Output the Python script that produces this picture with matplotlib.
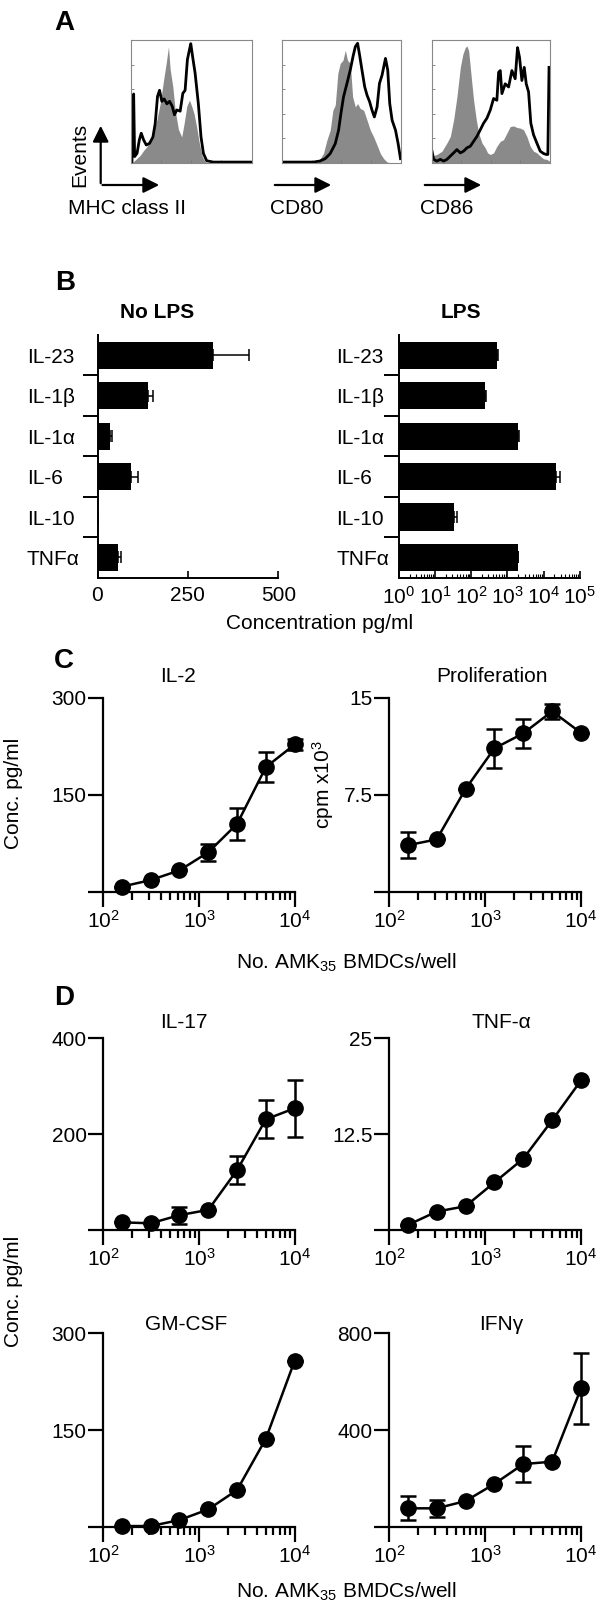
import numpy as np
import matplotlib
matplotlib.use('Agg')
import matplotlib.pyplot as plt
from matplotlib.patches import FancyArrowPatch
from matplotlib.ticker import LogLocator, NullFormatter

plt.rcParams['font.family'] = ['Liberation Sans', 'DejaVu Sans']
plt.rcParams['mathtext.fontset'] = 'custom'
plt.rcParams['mathtext.rm'] = 'Liberation Sans'
plt.rcParams['mathtext.it'] = 'Liberation Sans:italic'
plt.rcParams['mathtext.bf'] = 'Liberation Sans:bold'
plt.rcParams['mathtext.default'] = 'regular'

# ---- panel A: flow histograms (channel on 0-100 scale, events as % of max)
mhc_iso_x = [0, 2.2, 5.0, 7.7, 10.5, 13.2, 16.0, 18.7, 21.5, 24.2, 27.0, 29.2, 31.1, 32.5, 34.7, 36.6,
             39.4, 42.1, 44.1, 46.3, 48.5, 50.4, 52.3, 54.5, 56.7, 59.2, 61.4, 64.2, 100]
mhc_iso_y = [0, 1, 3.5, 6, 10, 13, 17, 25, 35, 48, 67, 81, 94.6, 76, 62, 43,
             27, 21, 32, 46, 51, 46, 40, 29, 16, 5, 1, 0, 0]
mhc_x = [0, 0.8, 2.2, 3.0, 5.0, 6.9, 8.5, 10.5, 12.7, 15.4, 18.2, 20.1, 22.0, 23.7, 25.6, 27.5, 29.8,
         32.0, 34.2, 36.1, 38.0, 40.8, 43.0, 44.9, 46.8, 48.5, 49.6, 51.2, 53.2, 55.9, 58.1, 60.1,
         62.8, 68.3, 100]
mhc_y = [0, 0.5, 56, 5, 7.6, 18.5, 24, 18.5, 14.4, 15.8, 21, 32, 54, 59, 50, 52, 48,
         50, 46, 39, 43, 42, 56.5, 59, 84, 92, 97, 86, 73, 48, 21, 7.6,
         1.6, 0.5, 0.5]

cd80_iso_x = [0, 29.2, 32.0, 34.8, 37.7, 40.5, 42.8, 44.8, 47.0, 49.0, 51.3, 53.3, 55.2, 57.5, 59.5,
              61.8, 63.7, 66.0, 68.8, 71.7, 74.5, 77.3, 80.2, 83.0, 85.8, 88.7, 91.5, 100]
cd80_iso_y = [0, 0, 3.3, 7.4, 18.3, 26.4, 42.8, 46.9, 72.8, 80.9, 83.4, 91.6, 83.4, 80.9, 53.7,
              45.5, 48.2, 44.1, 42.8, 34.6, 26.4, 21.0, 14.2, 7.4, 3.3, 0.5, 0, 0]
cd80_x = [0, 26.3, 32.0, 36.3, 40.5, 44.8, 47.6, 49.6, 51.8, 54.7, 57.5, 59.8, 61.8, 63.7, 65.4, 67.4,
          69.7, 71.7, 73.9, 75.9, 77.9, 80.2, 82.2, 84.4, 87.3, 89.2, 90.9, 92.9, 95.8, 98.0, 100]
cd80_y = [0.5, 0.5, 1.4, 3.3, 7.4, 15.5, 26.4, 40.1, 53.7, 64.6, 75.5, 86.4, 94.6, 97.3, 87.7, 75.5,
          61.9, 55.0, 49.6, 42.8, 37.3, 45.5, 64.6, 71.4, 85.0, 75.5, 48.2, 34.6, 26.4, 15.5, 3.3]

cd86_iso_x = [0, 4.2, 8.5, 12.7, 15.6, 18.4, 21.2, 24.1, 26.3, 28.3, 29.7, 31.2, 33.1, 35.4, 37.7, 39.7,
              42.5, 45.3, 47.3, 49.6, 52.4, 55.2, 58.1, 60.9, 63.7, 66.6, 69.4, 72.2, 75.1, 77.9, 80.7,
              83.6, 86.4, 89.2, 92.1, 94.9, 97.7, 100]
cd86_iso_y = [5.4, 6.7, 9.4, 16.1, 21.4, 34.9, 53.6, 77.7, 88.5, 93.8, 95.2, 91.2, 72.7, 50.9, 34.9, 24.1,
              16.1, 12.1, 8.0, 6.7, 8.0, 13.4, 17.4, 18.8, 24.1, 29.5, 30.0, 28.7, 28.2, 26.8, 21.4,
              13.4, 9.4, 8.0, 5.4, 3.2, 2.7, 1.3]
cd86_x = [0, 1.4, 4.2, 7.1, 9.9, 12.7, 15.6, 18.4, 21.2, 24.1, 26.9, 29.7, 32.6, 35.4, 38.2, 41.1, 43.9,
          46.7, 49.6, 52.4, 55.2, 56.7, 58.1, 59.5, 62.3, 65.2, 68.0, 70.8, 72.8, 74.5, 76.5, 78.5,
          80.2, 82.2, 84.1, 86.4, 89.2, 92.1, 94.9, 97.2, 98.6, 99.6]
cd86_y = [9.4, 2.7, 1.3, 2.7, 1.3, 2.7, 5.4, 8.0, 10.7, 8.0, 9.4, 12.1, 13.4, 17.4, 21.4, 26.8, 32.2,
          36.2, 42.9, 52.3, 50.9, 73.7, 75.1, 56.3, 64.3, 61.7, 75.1, 68.4, 93.8, 85.8, 67.0, 77.7,
          64.3, 57.6, 32.2, 22.8, 16.1, 9.4, 7.5, 6.7, 6.7, 77.7]

markers_a = ['MHC class II', 'CD80', 'CD86']

# ---- panel B: cytokines, pg/ml
cytokines = ['IL-23', 'IL-1β', 'IL-1α', 'IL-6', 'IL-10', 'TNFα']
nolps_mean = [320, 141, 34, 93, 1, 58]
nolps_err = [100, 12, 6, 18, 0, 8]
lps_mean = [510, 245, 2000, 21600, 33, 1990]
lps_err = [25, 13, 160, 6100, 8, 40]

# ---- panels C/D: titration of BMDCs
cells = [156.25, 312.5, 625, 1250, 2500, 5000, 10000]
il2 = [7.8, 18, 33, 61, 105, 193, 228]
il2_err = [0, 0, 0, 13, 25, 23, 9]
prolif = [3.6, 4.05, 7.95, 11.1, 12.26, 13.97, 12.3]
prolif_err = [1.0, 0, 0, 1.5, 1.1, 0.6, 0]
il17 = [16, 14, 31, 42, 125, 231, 254]
il17_err = [0, 0, 18, 0, 29, 40, 59]
tnfa = [0.65, 2.4, 3.1, 6.2, 9.3, 14.3, 19.5]
tnfa_err = [0, 0, 0, 0, 0, 0, 0]
gmcsf = [1, 1, 10.3, 26.9, 56.9, 136.6, 257.6]
gmcsf_err = [0, 0, 0, 0, 0, 0, 0]
ifng = [76, 76, 106, 177, 259, 269, 572]
ifng_err = [50, 35, 0, 0, 74, 0, 148]

W, H = 600, 1605
fig = plt.figure(figsize=(W / 100, H / 100), dpi=100)
FS = 15


def box(x0, y0, x1, y1):
    return fig.add_axes([x0 / W, 1 - y1 / H, (x1 - x0) / W, (y1 - y0) / H])


def ftext(x, y, s, **kw):
    kw.setdefault('fontsize', FS)
    kw.setdefault('ha', 'center')
    kw.setdefault('va', 'center')
    fig.text(x / W, 1 - y / H, s, **kw)


def arrow(x0, y0, x1, y1):
    fig.add_artist(FancyArrowPatch((x0 / W, 1 - y0 / H), (x1 / W, 1 - y1 / H),
                                   transform=fig.transFigure, arrowstyle='-|>',
                                   mutation_scale=24, lw=1.6, color='black'))


# panel letters
for letter, (lx, ly) in zip('ABCD', [(54, 23), (55, 283), (54, 661), (54, 998)]):
    ftext(lx, ly, letter, fontsize=20, fontweight='bold', ha='left')

# ---- A
hists = [(mhc_iso_x, mhc_iso_y, mhc_x, mhc_y),
         (cd80_iso_x, cd80_iso_y, cd80_x, cd80_y),
         (cd86_iso_x, cd86_iso_y, cd86_x, cd86_y)]
a_boxes = [(131, 40, 251.5, 162.7), (282.3, 40, 400.5, 162.7), (432, 40, 549.5, 162.7)]
for bx, (gx, gy, lx, ly) in zip(a_boxes, hists):
    ax = box(*bx)
    ax.fill_between(gx, gy, color='#8a8a8a', lw=0)
    ax.plot(lx, ly, color='black', lw=2.0)
    ax.set_xlim(0, 100)
    ax.set_ylim(0, 100)
    ax.set_xticks([25, 50, 75])
    ax.set_yticks([20, 40, 60, 80])
    ax.tick_params(direction='in', length=2, width=0.6, color='#777777',
                   labelbottom=False, labelleft=False)
    for s in ax.spines.values():
        s.set_color('#888888')
        s.set_linewidth(0.8)

arrow(100.7, 186, 100.7, 123)
arrow(99.7, 185, 162, 185)
ftext(80, 155, 'Events', rotation=90)
arrow(272, 185, 334, 185)
arrow(422, 185, 484, 185)
for (tx, lab) in zip([68, 270, 420], markers_a):
    ftext(tx, 209, lab, ha='left')

# ---- B
ypos = np.arange(len(cytokines))
b_axes = [box(97.5, 335, 278.3, 577.7), box(398.7, 335, 579.8, 577.7)]
for ax, lab_pad in zip(b_axes, [51, 45]):
    ax.set_ylim(len(cytokines) - 0.5, -0.5)
    ax.spines[['top', 'right']].set_visible(False)
    ax.spines[['left', 'bottom']].set_linewidth(1.4)
    ax.set_yticks(ypos[:-1] + 0.5)
    ax.set_yticklabels([])
    ax.set_yticks(ypos, minor=True)
    ax.set_yticklabels(cytokines, minor=True, ha='left')
    ax.tick_params(axis='y', which='major', length=11, width=1.4)
    ax.tick_params(axis='y', which='minor', length=0, pad=lab_pad, labelsize=FS)
    ax.tick_params(axis='x', which='major', direction='in', length=5, width=1.2,
                   labelsize=FS, pad=6)

ax = b_axes[0]
ax.barh(ypos, nolps_mean, height=0.67, color='black',
        xerr=[np.zeros(len(nolps_err)), nolps_err], capsize=4.3,
        error_kw=dict(lw=1.1, capthick=1.1))
ax.set_xlim(0, 500)
ax.set_xticks([0, 250, 500])

ax = b_axes[1]
ax.set_xscale('log')
ax.barh(ypos, np.array(lps_mean) - 1, left=1, height=0.67, color='black',
        xerr=[np.zeros(len(lps_err)), lps_err], capsize=4.3,
        error_kw=dict(lw=1.1, capthick=1.1))
ax.set_xlim(1, 1e5)
ax.set_xticks([10.0 ** k for k in range(6)])
ax.set_xticklabels(['10$^{%d}$' % k for k in range(6)])
ax.xaxis.set_minor_locator(LogLocator(base=10, subs=np.arange(2, 10), numticks=20))
ax.xaxis.set_minor_formatter(NullFormatter())
ax.tick_params(axis='x', which='minor', direction='in', length=3, width=0.8)

ftext(157, 313, 'No LPS', fontweight='bold')
ftext(461, 313, 'LPS', fontweight='bold')
ftext(320, 623, 'Concentration pg/ml')


# ---- C / D
def line_panel(bx, vals, errs, ymax, ylabels, title, tx, ty):
    ax = box(*bx)
    cont = ax.errorbar(cells, vals, yerr=errs, fmt='-o', color='black', ms=11, lw=1.8,
                       elinewidth=1.8, capsize=5.5, capthick=1.8)
    for art in cont.get_children():
        art.set_clip_on(False)
    ax.set_xscale('log')
    ax.set_xlim(100, 1e4)
    ax.set_ylim(0, ymax)
    ax.spines[['top', 'right']].set_visible(False)
    ax.spines[['left', 'bottom']].set_linewidth(1.6)
    ax.set_xticks([1e2, 1e3, 1e4])
    ax.set_xticklabels(['10$^{2}$', '10$^{3}$', '10$^{4}$'])
    ax.xaxis.set_minor_locator(LogLocator(base=10, subs=np.arange(2, 10), numticks=20))
    ax.xaxis.set_minor_formatter(NullFormatter())
    ax.set_yticks([0, ymax / 2, ymax])
    ax.set_yticklabels([''] + ylabels)
    ax.tick_params(axis='x', which='major', length=11, width=1.6, labelsize=FS, pad=2)
    ax.tick_params(axis='x', which='minor', length=6, width=1.6)
    ax.tick_params(axis='y', length=11, width=1.6, labelsize=FS, pad=1)
    ftext(tx, ty, title)
    return ax


line_panel((103.3, 698, 294.7, 891.7), il2, il2_err, 300, ['150', '300'], 'IL-2', 178, 677)
line_panel((389.2, 698, 581, 891.7), prolif, prolif_err, 15, ['7.5', '15'], 'Proliferation', 492, 677)
line_panel((103.3, 1038.3, 294.7, 1230), il17, il17_err, 400, ['200', '400'], 'IL-17', 184, 1023)
line_panel((389.2, 1038.3, 581, 1230), tnfa, tnfa_err, 25, ['12.5', '25'], 'TNF-α', 501, 1023)
line_panel((103.3, 1333.3, 294.7, 1526.7), gmcsf, gmcsf_err, 300, ['150', '300'], 'GM-CSF', 186, 1325)
line_panel((389.2, 1333.3, 581, 1526.7), ifng, ifng_err, 800, ['400', '800'], 'IFNγ', 501, 1325)

ftext(14, 793, 'Conc. pg/ml', rotation=90)
ftext(323, 785, 'cpm x10$^{3}$', rotation=90)
ftext(14, 1291, 'Conc. pg/ml', rotation=90)
ftext(346, 963, 'No. AMK$_{35}$ BMDCs/well')
ftext(346, 1592, 'No. AMK$_{35}$ BMDCs/well')

fig.savefig('out.png', dpi=100)
